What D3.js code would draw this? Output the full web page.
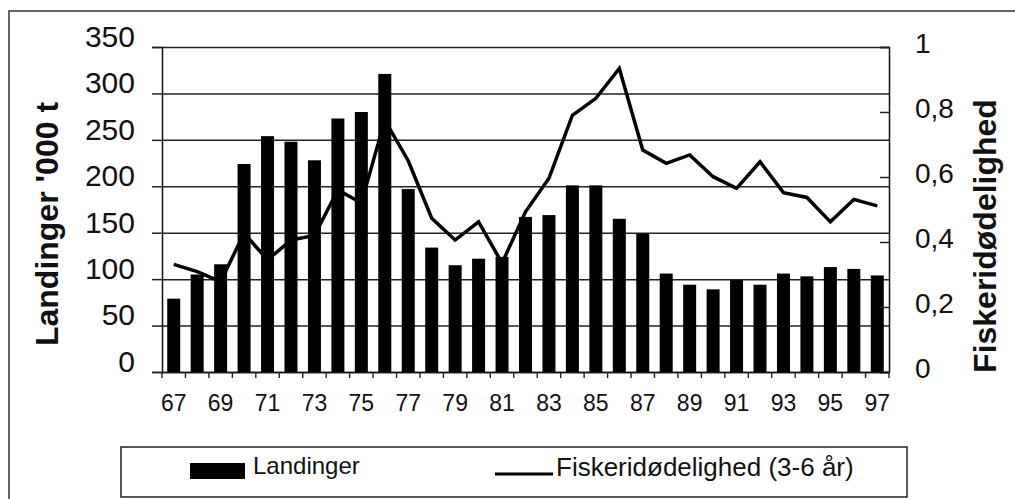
<html>
    <head>
        <meta charset="utf-8">
        <script src="https://d3js.org/d3.v7.min.js"></script>
        <style>
            body { margin: 0; background: #fff; }
            text { font-family: "Liberation Sans", Arial, sans-serif; fill: #111; }
        </style>
    </head>

    <body>
        <script>
            // data
            var years = ["67","68","69","70","71","72","73","74","75","76","77","78","79","80","81","82",
                         "83","84","85","86","87","88","89","90","91","92","93","94","95","96","97"];
            // landings, '000 t
            var landinger = [79,105,116,224,254,248,228,273,280,321,197,134,115,122,124,167,
                             169,201,201,165,149,106,94,89,99,94,106,103,113,111,104];
            // fishing mortality (3-6 years)
            var fiskeri = [0.331,0.309,0.278,0.427,0.345,0.406,0.42,0.56,0.52,0.775,0.65,0.473,0.406,0.462,0.335,0.493,
                           0.596,0.79,0.842,0.934,0.683,0.642,0.668,0.601,0.565,0.647,0.552,0.537,0.462,0.531,0.511];
            var leftTicks = [0,50,100,150,200,250,300,350];
            var rightTicks = [0,0.2,0.4,0.6,0.8,1];
            var xLabels = ["67","69","71","73","75","77","79","81","83","85","87","89","91","93","95","97"];

            var margin = {top: 47, left: 162},
                width = 727,
                height = 325;

            var svg = d3.select("body")
            .append("svg")
                .attr("width", 1015)
                .attr("height", 499)

            // outer frame (runs off the picture right and bottom)
            svg.append("rect")
                .attr("x", 9).attr("y", 11)
                .attr("width", 1100).attr("height", 600)
                .style("fill", "none").style("stroke", "#333").style("stroke-width", 1.5)

            var g = svg.append("g")
                .attr("transform", "translate(" + margin.left + "," + margin.top + ")")

            var x = d3.scaleBand().domain(years).range([0, width]).padding(0)
            var y = d3.scaleLinear().domain([0, 350]).range([height, 0])
            var y2 = d3.scaleLinear().domain([0, 1]).range([height, 0])

            // horizontal grid
            g.append("g")
                .call(d3.axisLeft(y).tickValues(leftTicks).tickSize(-width).tickFormat(""))
                .call(function(s) { s.select(".domain").remove() })
                .selectAll("line").attr("stroke", "#222").attr("stroke-width", 1.5)

            // bars
            var barW = 13
            g.append("g")
                .selectAll("rect")
                .data(years)
                .enter()
                .append("rect")
                .attr("x", function(d) { return x(d) + x.bandwidth() / 2 - barW / 2 })
                .attr("y", function(d, i) { return y(landinger[i]) })
                .attr("width", barW)
                .attr("height", function(d, i) { return height - y(landinger[i]) })
                .style("fill", "#000")

            // line
            var line = d3.line()
                .x(function(d, i) { return x(years[i]) + x.bandwidth() / 2 })
                .y(function(d) { return y2(d) })
            g.append("path")
                .datum(fiskeri)
                .attr("d", line)
                .style("fill", "none")
                .style("stroke", "#000")
                .style("stroke-width", 3.5)
                .style("stroke-linejoin", "miter")

            // left axis
            var ax = g.append("g")
                .call(d3.axisLeft(y).tickValues(leftTicks).tickSize(10).tickPadding(17))
            ax.select(".domain").attr("stroke", "#111").attr("stroke-width", 1.5)
            ax.selectAll("line").attr("stroke", "#222").attr("stroke-width", 1.5)
            ax.selectAll("text").style("font-size", "30px").attr("dy", "-0.02em")

            // right axis
            var ar = g.append("g")
                .attr("transform", "translate(" + width + ",0)")
                .call(d3.axisRight(y2).tickValues(rightTicks).tickSize(-9).tickPadding(26)
                    .tickFormat(function(d) { return d === 0 || d === 1 ? d : d3.format(".1f")(d).replace(".", ",") }))
            ar.select(".domain").attr("stroke", "#111").attr("stroke-width", 1.5)
            ar.selectAll("line").attr("stroke", "#222").attr("stroke-width", 1.5)
            ar.selectAll("text").style("font-size", "28px").attr("dy", "0.2em")

            // bottom axis: labels every second year, ticks on the category borders
            var ab = g.append("g")
                .attr("transform", "translate(0," + height + ")")
                .call(d3.axisBottom(x).tickValues(xLabels).tickSize(0).tickPadding(23))
            ab.select(".domain").attr("stroke", "#111").attr("stroke-width", 1.5)
            ab.selectAll("text").style("font-size", "23px")
            g.append("g")
                .selectAll("line")
                .data(years.concat(["end"]))
                .enter()
                .append("line")
                .attr("x1", function(d) { return d === "end" ? width : x(d) })
                .attr("x2", function(d) { return d === "end" ? width : x(d) })
                .attr("y1", height)
                .attr("y2", height + 6)
                .attr("stroke", "#222")
                .attr("stroke-width", 1.4)

            // axis titles
            svg.append("text")
                .attr("transform", "translate(47,224) rotate(-90)")
                .attr("text-anchor", "middle")
                .attr("dominant-baseline", "central")
                .style("font-size", "32px").style("font-weight", "bold")
                .text("Landinger '000 t")
            svg.append("text")
                .attr("transform", "translate(985,236) rotate(-90)")
                .attr("text-anchor", "middle")
                .attr("dominant-baseline", "central")
                .style("font-size", "32px").style("font-weight", "bold")
                .text("Fiskeridødelighed")

            // legend
            svg.append("rect")
                .attr("x", 121).attr("y", 447).attr("width", 786).attr("height", 50)
                .style("fill", "none").style("stroke", "#222").style("stroke-width", 1.5)
            svg.append("rect")
                .attr("x", 190).attr("y", 463).attr("width", 55).attr("height", 16)
                .style("fill", "#000")
            svg.append("text").attr("x", 253).attr("y", 474).text("Landinger").style("font-size", "24px")
            svg.append("line")
                .attr("x1", 495).attr("x2", 553).attr("y1", 474).attr("y2", 474)
                .style("stroke", "#000").style("stroke-width", 3)
            svg.append("text").attr("x", 556).attr("y", 476).text("Fiskeridødelighed (3-6 år)").style("font-size", "26px")

        </script>
    </body>
</html>
